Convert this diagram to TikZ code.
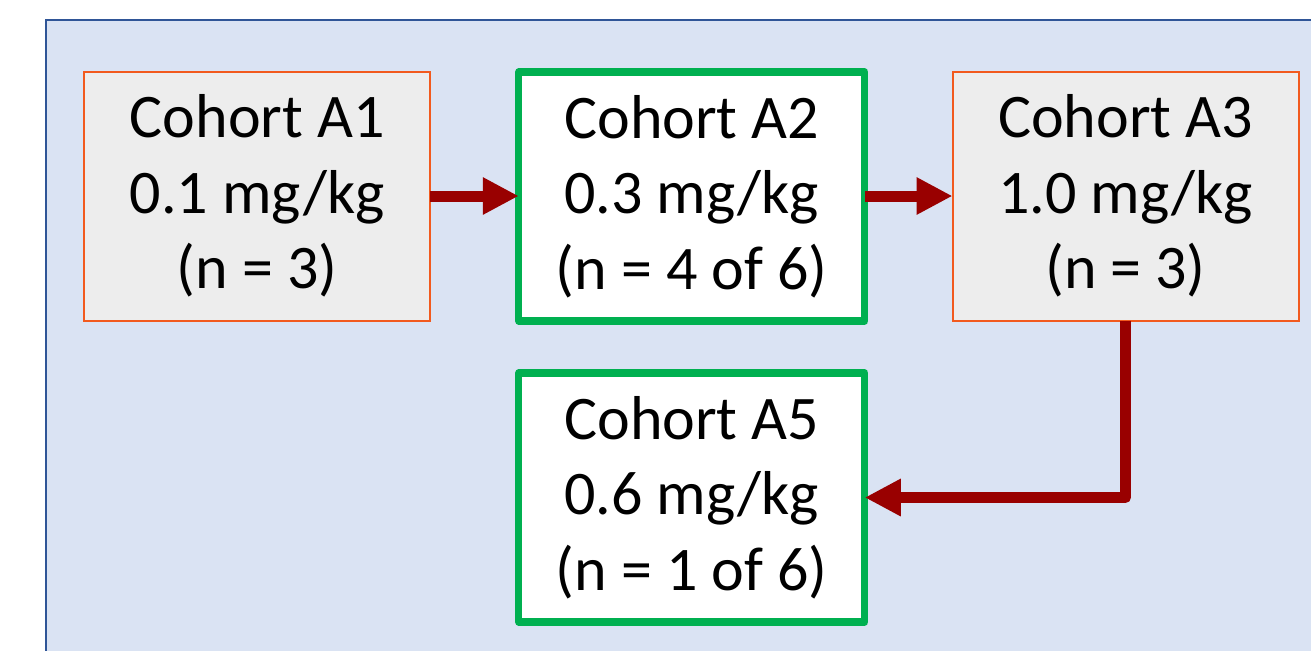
\documentclass[tikz,border=0pt]{standalone}
\usepackage{fontspec}
\setmainfont{Carlito}
\usetikzlibrary{arrows.meta}
\definecolor{bgfill}{HTML}{DAE3F3}
\definecolor{bgline}{HTML}{2F5597}
\definecolor{grayfill}{HTML}{EDEDED}
\definecolor{orangeline}{HTML}{F25A1E}
\definecolor{greenline}{HTML}{00B050}
\definecolor{arrowred}{HTML}{990000}
\tikzset{
  cohort/.style={rectangle, align=center, inner sep=0pt, outer sep=0pt,
    minimum width=173pt, minimum height=124.5pt,
    font=\fontsize{31}{37.75}\selectfont, text=black},
  plainbox/.style={cohort, fill=grayfill, draw=orangeline, line width=1pt},
  chosenbox/.style={cohort, fill=white, draw=greenline, line width=3.6pt, line join=round},
  flow/.style={draw=arrowred, line width=5.5pt, line join=round,
    -{Triangle[length=18pt, width=17.5pt, fill=arrowred]}}
}
\begin{document}
\begin{tikzpicture}[x=0.5pt, y=-0.5pt]
\useasboundingbox (0,0) rectangle (1311,650);
\clip (0,0) rectangle (1311,650);
\draw[fill=bgfill, draw=bgline, line width=1pt] (46,20.3) rectangle (1340,680);
\node[plainbox] (a1) at (257.25,196) {Cohort A1\\0.1 mg/kg\\(n = 3)};
\node[chosenbox] (a2) at (691.75,196.5) {Cohort A2\\0.3 mg/kg\\(n = 4 of 6)};
\node[plainbox] (a3) at (1125.5,196) {Cohort A3\\1.0 mg/kg\\(n = 3)};
\node[chosenbox] (a5) at (691.75,497.5) {Cohort A5\\0.6 mg/kg\\(n = 1 of 6)};
\draw[flow] (a1.east) -- (a2.west |- a1.east);
\draw[flow] (a2.east |- a3.west) -- (a3.west);
\draw[flow] (a3.south) |- (a5.east);
\end{tikzpicture}
\end{document}
